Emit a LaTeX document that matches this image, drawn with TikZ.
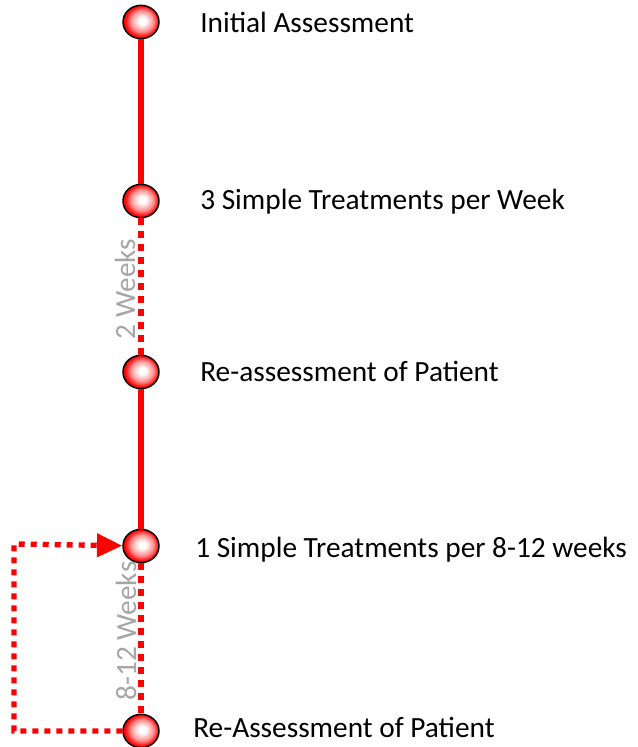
\documentclass[tikz,border=0pt]{standalone}
\usepackage{fontspec}
\setmainfont{Carlito}
\usepackage{xcolor}
\usepackage{tikz}
\usetikzlibrary{shapes.geometric, arrows.meta, positioning, calc}
\definecolor{weekgray}{HTML}{A6A6A6}
\pgfdeclareradialshading{milestoneball}{\pgfpoint{2bp}{2bp}}{%
    color(0bp)=(white); color(5bp)=(white); color(16bp)=(red!45);
    color(22bp)=(red!90); color(25bp)=(red); color(50bp)=(red)}
\tikzset{
    milestone/.style={ellipse, draw=black, line width=1.1pt, minimum width=27pt, minimum height=25pt, inner sep=0pt, shading=milestoneball},
    steplabel/.style={anchor=base west, inner sep=0pt, font=\fontsize{22}{26}\selectfont},
    weeklabel/.style={rotate=90, inner sep=0pt, text=weekgray, font=\fontsize{22}{26}\selectfont},
    solidlink/.style={draw=red, line width=5pt},
    dotlink/.style={draw=red, line width=5pt, dash pattern=on 5pt off 4.75pt},
    looplink/.style={draw=red, line width=4pt, dash pattern=on 4.5pt off 4.5pt, -{Triangle[length=19pt, width=17pt, fill=red]}}
}
\begin{document}
\begin{tikzpicture}[x=0.75pt, y=-0.75pt]
    \useasboundingbox (0,0) rectangle (637,747);

    % Milestones on the time line
    \node[milestone] (m1) at (141, 22) {};
    \node[milestone] (m2) at (141, 201) {};
    \node[milestone] (m3) at (141, 372) {};
    \node[milestone] (m4) at (141, 546) {};
    \node[milestone] (m5) at (141, 731) {};

    % Step texts
    \node[steplabel] (l1) at (200, 32) {Initial Assessment};
    \node[steplabel] (l2) at (200, 209) {3 Simple Treatments per Week};
    \node[steplabel] (l3) at (200, 381) {Re-assessment of Patient};
    \node[steplabel] (l4) at (195, 557) {1 Simple Treatments per 8-12 weeks};
    \node[steplabel] (l5) at (193, 737) {Re-Assessment of Patient};

    % Time line
    \draw[solidlink] (m1) -- (m2);
    \draw[dotlink] (m2) -- (m3);
    \draw[solidlink] (m3) -- (m4);
    \draw[dotlink] (m4) -- (m5);

    % Intervals
    \node[weeklabel] (w1) at (125, 289) {2 Weeks};
    \node[weeklabel] (w2) at (126, 631) {8-12 Weeks};

    % Repeat loop
    \coordinate (c1) at (14, 731);
    \coordinate (c2) at (14, 544);
    \draw[looplink] (m5) -- (c1) -- (c2) -- (m4);
\end{tikzpicture}
\end{document}
